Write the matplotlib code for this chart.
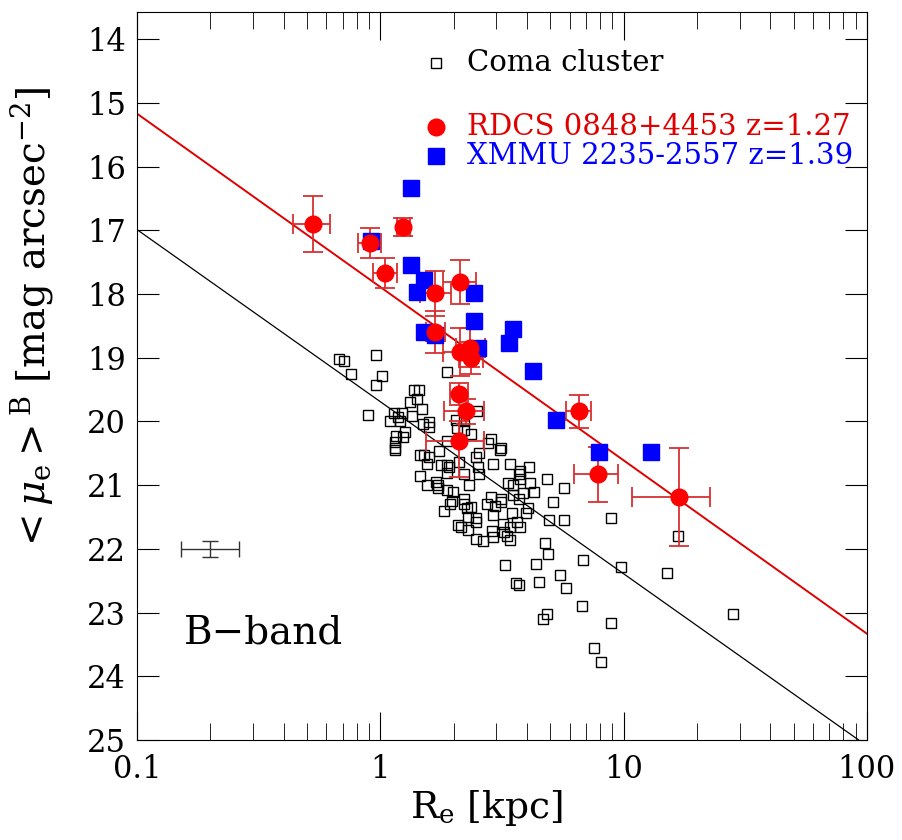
import numpy as np
import matplotlib.pyplot as plt

plt.rcParams['font.family'] = ['DejaVu Serif']
plt.rcParams['mathtext.fontset'] = 'dejavuserif'

# Coma cluster galaxies: log10(Re/kpc) and <mu_e> (B band)
coma_logR = [-0.169, -0.148, -0.016, -0.119, 0.008, -0.016, 0.272, 0.140, 0.160, 0.152,
             0.123, 0.173, 0.058, 0.091, -0.049, 0.132, 0.074, 0.041, 0.082, 0.202,
             0.177, 0.202, 0.103, 0.066, 0.095, 0.062, 0.062, 0.272, 0.243, 0.165,
             0.181, 0.198, 0.313, 0.342, 0.317, 0.342, 0.374, 0.399, 0.453, 0.444,
             0.494, 0.407, 0.395, 0.193, 0.251, 0.272, 0.284, 0.276, 0.325, 0.403,
             0.407, 0.342, 0.465, 0.535, 0.576, 0.613, 0.568, 0.165, 0.193, 0.230,
             0.239, 0.272, 0.300, 0.366, 0.523, 0.547, 0.617, 0.687, 0.757, 0.588,
             0.630, 0.568, 0.296, 0.288, 0.342, 0.342, 0.263, 0.358, 0.374, 0.453,
             0.494, 0.494, 0.440, 0.473, 0.465, 0.543, 0.609, 0.597, 0.708, 0.695,
             0.757, 0.362, 0.395, 0.395, 0.321, 0.333, 0.362, 0.395, 0.424, 0.457,
             0.465, 0.506, 0.510, 0.519, 0.535, 0.576, 0.535, 0.675, 0.691, 0.835,
             0.062, 0.490, 0.239, 0.560, 0.514, 0.556, 0.568, 0.547, 0.576, 0.947,
             0.638, 0.988, 1.177, 1.222, 0.737, 0.654, 0.765, 0.827, 0.687, 0.667,
             0.947, 0.877, 0.909, 1.449]
coma_mu = [19.02, 19.05, 18.96, 19.26, 19.29, 19.43, 19.23, 19.51, 19.51, 19.64,
           19.69, 19.80, 19.86, 19.86, 19.90, 19.92, 19.93, 20.00, 20.00, 20.01,
           20.04, 20.08, 20.17, 20.23, 20.25, 20.33, 20.41, 20.31, 20.47, 20.52,
           20.53, 20.55, 19.98, 20.00, 20.11, 20.13, 20.20, 19.83, 20.28, 20.34,
           20.41, 20.49, 20.55, 20.66, 20.68, 20.69, 20.72, 20.81, 20.63, 20.72,
           20.83, 20.83, 20.66, 20.66, 20.77, 20.71, 20.83, 20.85, 21.00, 20.95,
           20.99, 21.08, 21.11, 20.99, 20.97, 21.00, 20.96, 20.91, 21.05, 21.13,
           21.11, 21.21, 21.25, 21.30, 21.22, 21.29, 21.40, 21.36, 21.35, 21.19,
           21.21, 21.27, 21.30, 21.32, 21.47, 21.44, 21.36, 21.43, 21.27, 21.55,
           21.55, 21.50, 21.52, 21.58, 21.63, 21.66, 21.71, 21.85, 21.88, 21.72,
           21.82, 21.61, 21.73, 21.80, 21.66, 21.65, 21.86, 21.91, 22.08, 22.18,
           20.45, 20.45, 21.05, 21.58, 22.26, 22.54, 22.56, 21.16, 20.91, 21.52,
           22.24, 22.29, 22.38, 21.79, 22.41, 22.52, 22.61, 22.89, 23.02, 23.10,
           23.17, 23.55, 23.78, 23.02]

# RDCS 0848+4453 (z=1.27): log Re, mu, errors (dex in x, mag in y)
rdcs_logR = [-0.276, -0.041, 0.095, 0.021, 0.226, 0.329, 0.226, 0.329, 0.370, 0.374,
             0.325, 0.352, 0.325, 0.815, 0.893, 1.226]
rdcs_mu = [16.90, 17.20, 16.95, 17.67, 17.99, 17.81, 18.60, 18.91, 18.84, 19.01,
           19.57, 19.84, 20.30, 19.84, 20.83, 21.19]
rdcs_dx_lo = [0.082, 0.050, 0.028, 0.050, 0.061, 0.071, 0.040, 0.070, 0.060, 0.050,
              0.037, 0.089, 0.136, 0.050, 0.095, 0.190]
rdcs_dx_hi = [0.070, 0.045, 0.028, 0.048, 0.065, 0.066, 0.040, 0.069, 0.060, 0.050,
              0.037, 0.076, 0.103, 0.050, 0.085, 0.130]
rdcs_dy_lo = [0.44, 0.23, 0.14, 0.24, 0.35, 0.35, 0.33, 0.37, 0.30, 0.25,
              0.17, 0.20, 0.31, 0.26, 0.43, 0.77]
rdcs_dy_hi = [0.44, 0.23, 0.14, 0.24, 0.35, 0.35, 0.33, 0.37, 0.30, 0.25,
              0.17, 0.20, 0.57, 0.26, 0.43, 0.77]

# XMMU 2235-2557 (z=1.39)
xmmu_logR = [0.128, -0.037, 0.128, 0.181, 0.152, 0.387, 0.387, 0.181, 0.226, 0.403,
             0.547, 0.527, 0.626, 0.724, 0.897, 1.111]
xmmu_mu = [16.34, 17.17, 17.55, 17.78, 17.97, 17.99, 18.43, 18.59, 18.64, 18.84,
           18.55, 18.77, 19.21, 19.98, 20.48, 20.48]

# Kormendy relation fits: mu = a + b * log Re
fit_red = (17.89, 2.72)
fit_black = (19.69, 2.70)

# typical error for Coma
typ_logR, typ_mu, typ_dx, typ_dy = -0.70, 22.0, 0.12, 0.12

fig = plt.figure(figsize=(9.02, 8.4), dpi=100)
ax = fig.add_axes([0.152, 0.119, 0.809, 0.867])
ax.set_xscale('log')

xl = np.array([0.1, 100.0])
ax.plot(xl, fit_black[0] + fit_black[1] * np.log10(xl), color='black', lw=0.9)
ax.plot(xl, fit_red[0] + fit_red[1] * np.log10(xl), color='#e00000', lw=1.4)

ax.plot(10 ** np.array(coma_logR), coma_mu, 's', mfc='none', mec='black', ms=7, mew=1.0)

r = 10 ** np.array(rdcs_logR)
xerr = [r - 10 ** (np.array(rdcs_logR) - rdcs_dx_lo), 10 ** (np.array(rdcs_logR) + rdcs_dx_hi) - r]
ax.errorbar(r, rdcs_mu, xerr=xerr, yerr=[rdcs_dy_lo, rdcs_dy_hi], fmt='o', color='red',
            ecolor='#d83030', ms=12, elinewidth=1.3, capsize=7, capthick=1.3)

ax.plot(10 ** np.array(xmmu_logR), xmmu_mu, 's', color='#0000ff', ms=11)

tr = 10 ** typ_logR
ax.errorbar([tr], [typ_mu], xerr=[[tr - 10 ** (typ_logR - typ_dx)], [10 ** (typ_logR + typ_dx) - tr]],
            yerr=typ_dy, fmt='none', ecolor='#333333', elinewidth=1.0, capsize=6)

# legend drawn by hand
ax.plot([0.41], [0.930], 's', transform=ax.transAxes, mfc='none', mec='black', ms=7, mew=1.0)
ax.text(0.452, 0.930, 'Coma cluster', transform=ax.transAxes, va='center', fontsize=21)
ax.plot([0.41], [0.842], 'o', transform=ax.transAxes, color='red', ms=12)
ax.text(0.452, 0.842, 'RDCS 0848+4453 z=1.27', transform=ax.transAxes, va='center',
        fontsize=21, color='#e00000')
ax.plot([0.41], [0.802], 's', transform=ax.transAxes, color='#0000ff', ms=11)
ax.text(0.452, 0.802, 'XMMU 2235-2557 z=1.39', transform=ax.transAxes, va='center',
        fontsize=21, color='#0000ff')

ax.text(0.064, 0.147, 'B\u2212band', transform=ax.transAxes, va='center', fontsize=28)

ax.set_xlim(0.1, 100)
ax.set_ylim(25, 13.57)
ax.set_xticks([0.1, 1, 10, 100])
ax.set_xticklabels(['0.1', '1', '10', '100'])
ax.set_yticks(range(14, 26))
ax.tick_params(which='both', direction='in', top=True, right=True, labelsize=22)
ax.tick_params(axis='x', which='major', length=20, pad=10)
ax.tick_params(axis='x', which='minor', length=12)
ax.tick_params(axis='y', which='major', length=16, pad=8)

ax.set_xlabel(r'R$_{\rm e}$ [kpc]', fontsize=27, va='top')
ax.set_ylabel(r'${<}\mu_{\rm e}{>}^{\rm B}$ [mag arcsec$^{-2}$]', fontsize=28)
ax.xaxis.set_label_coords(0.479, -0.066)
ax.yaxis.set_label_coords(-0.112, 0.577)

fig.savefig('out.png', dpi=100)
